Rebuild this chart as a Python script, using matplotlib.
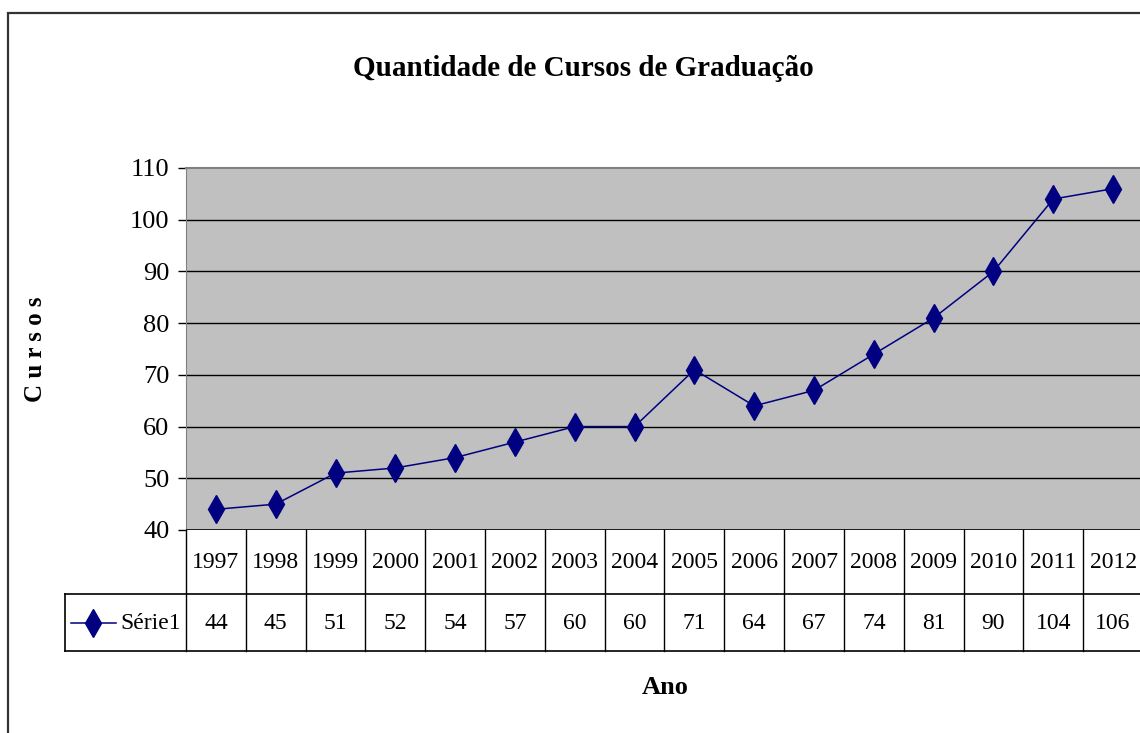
import matplotlib
matplotlib.use('Agg')
import matplotlib.pyplot as plt
from matplotlib.patches import Rectangle
from matplotlib.lines import Line2D

# Chart data
anos = ['1997', '1998', '1999', '2000', '2001', '2002', '2003', '2004',
        '2005', '2006', '2007', '2008', '2009', '2010', '2011', '2012']
cursos = [44, 45, 51, 52, 54, 57, 60, 60, 71, 64, 67, 74, 81, 90, 104, 106]
y_ticks = [40, 50, 60, 70, 80, 90, 100, 110]
serie_nome = 'Série1'

W, H = 1140, 733
NAVY = '#000080'
plt.rcParams['font.family'] = ['Liberation Serif', 'DejaVu Serif']

fig = plt.figure(figsize=(W / 100, H / 100), dpi=100)

# outer chart border (only top and left visible)
fig.patches.append(Rectangle((8 / W, -0.1), 1.2, (H - 13) / H + 0.1,
                             transform=fig.transFigure, fill=False,
                             edgecolor='#333333', linewidth=1.6))

# main plot area
left, right = 186, 1143
top, bottom = 168, 530
ax = fig.add_axes([left / W, (H - bottom) / H, (right - left) / W, (bottom - top) / H])
ax.set_facecolor('#C0C0C0')
x = list(range(len(anos)))
ax.plot(x, cursos, color=NAVY, linewidth=1.1, marker='d', markersize=14,
        markerfacecolor=NAVY, markeredgecolor=NAVY, zorder=3)
ax.set_xlim(-0.5, len(anos) - 0.5)
ax.set_ylim(y_ticks[0], y_ticks[-1])
ax.set_yticks(y_ticks)
ax.tick_params(axis='y', labelsize=19, length=6, width=1, color='black', pad=6)
ax.set_xticks([])
for v in y_ticks[1:-1]:
    ax.axhline(v, color='black', linewidth=1)
for s in ['right', 'bottom']:
    ax.spines[s].set_visible(False)
ax.spines['left'].set_color('#808080')
ax.spines['top'].set_color('#808080')
ax.spines['top'].set_linewidth(1.5)
ax.axhline(y_ticks[0], color='black', linewidth=1.2, zorder=4)

ax.set_ylabel('C u r s o s', fontsize=18, fontweight='bold', labelpad=0)
ax.yaxis.set_label_coords(-0.145, 0.5)

# data table below the plot
tb_bottom = 651
tab = fig.add_axes([left / W, (H - tb_bottom) / H, (right - left) / W, (tb_bottom - bottom) / H])
tab.set_xlim(-0.5, len(anos) - 0.5)
tab.set_ylim(tb_bottom - bottom, 0)
tab.axis('off')
row_split = 64
row_end = tb_bottom - bottom
cell_w = (right - left) / len(anos)
leg_left = -0.5 - (left - 65) / cell_w

for i, (a, c) in enumerate(zip(anos, cursos)):
    tab.text(i, row_split / 2 + 1, a, ha='center', va='center', fontsize=17)
    tab.text(i, (row_split + row_end) / 2 + 1, str(c), ha='center', va='center', fontsize=17)
    tab.plot([i + 0.5, i + 0.5], [0, row_end], color='black', linewidth=1, clip_on=False)
tab.plot([-0.5, -0.5], [0, row_end], color='black', linewidth=1, clip_on=False)
tab.plot([leg_left, len(anos)], [row_split, row_split], color='black', linewidth=1.2, clip_on=False)
tab.plot([leg_left, len(anos)], [row_end, row_end], color='black', linewidth=1.2, clip_on=False)
tab.plot([leg_left, leg_left], [row_split, row_end], color='black', linewidth=1.2, clip_on=False)

# legend key in the table
ky = (row_split + row_end) / 2
tab.add_line(Line2D([leg_left + 0.1, leg_left + 0.85], [ky, ky], color=NAVY, linewidth=1.1,
                    clip_on=False))
tab.plot([leg_left + 0.475], [ky], marker='d', markersize=14, color=NAVY, clip_on=False)
tab.text(leg_left + 0.92, ky + 1, serie_nome, ha='left', va='center', fontsize=17)

fig.text(583 / W, 1 - 68 / H, 'Quantidade de Cursos de Graduação', ha='center', va='center',
         fontsize=21, fontweight='bold')
fig.text(665 / W, 1 - 688 / H, 'Ano', ha='center', va='center', fontsize=19, fontweight='bold')

fig.savefig('out.png', dpi=100)
